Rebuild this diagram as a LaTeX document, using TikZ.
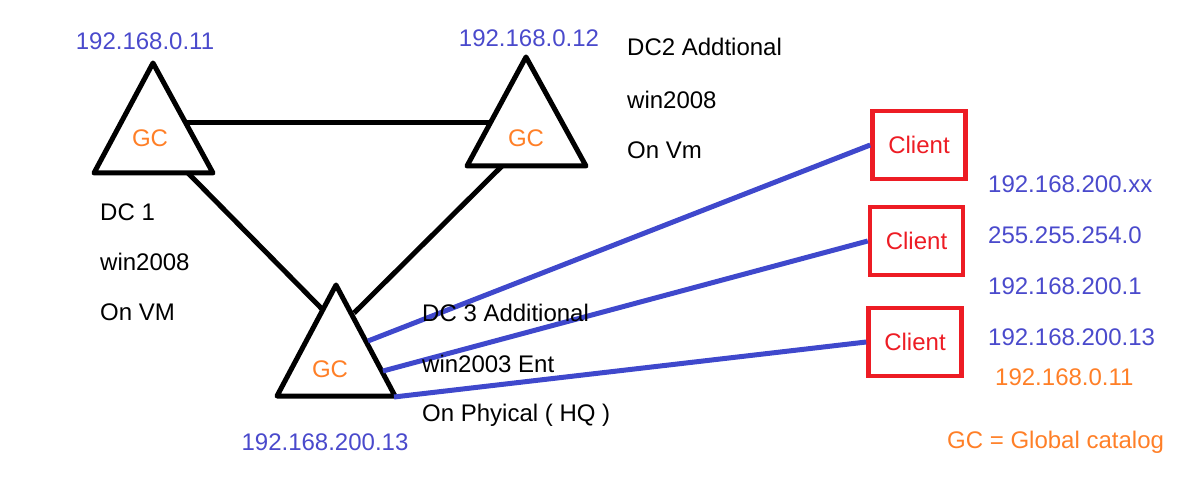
\documentclass[tikz,border=0pt]{standalone}
\usepackage{fontspec}
\setmainfont{Liberation Sans}
\definecolor{ipblue}{HTML}{4A4ACC}
\definecolor{lnblue}{HTML}{3F48CC}
\definecolor{gcorange}{HTML}{FF7F27}
\definecolor{clred}{HTML}{ED1C24}
\tikzset{
  txt/.style={font=\fontsize{24}{28}\selectfont, inner sep=0pt},
  iptxt/.style={txt, text=ipblue},
  gctxt/.style={txt, text=gcorange},
  blk/.style={txt, text=black, anchor=west},
  dcline/.style={line width=5pt, black, line join=round},
  cline/.style={line width=5pt, lnblue},
  clientbox/.style={draw=clred, line width=4.5pt, minimum width=93pt, minimum height=68pt, inner sep=0pt, font=\fontsize{24}{28}\selectfont, text=clred},
}
\begin{document}
\begin{tikzpicture}[x=1pt,y=-1pt]
\useasboundingbox (0,0) rectangle (1189,478);
% triangle corners
\coordinate (t1a) at (153,63); \coordinate (t1l) at (94,173); \coordinate (t1r) at (213,173);
\coordinate (t2a) at (526,57); \coordinate (t2l) at (467,166); \coordinate (t2r) at (586,166);
\coordinate (t3a) at (336,285); \coordinate (t3l) at (277,396); \coordinate (t3r) at (395,396);
\draw[dcline] (t1a) -- (t1l) -- (t1r) -- cycle;
\draw[dcline] (t2a) -- (t2l) -- (t2r) -- cycle;
\draw[dcline] (t3a) -- (t3l) -- (t3r) -- cycle;
% connection points
\coordinate (c12a) at (187,123); \coordinate (c12b) at (492,123);
\coordinate (c13a) at (188,173); \coordinate (c13b) at (322,309);
\coordinate (c23a) at (502,166); \coordinate (c23b) at (354,313);
\draw[dcline] (c12a) -- (c12b);
\draw[dcline] (c13a) -- (c13b);
\draw[dcline] (c23a) -- (c23b);
% GC labels
\node[gctxt] (gc1) at (150,138) {GC};
\node[gctxt] (gc2) at (526,138) {GC};
\node[gctxt] (gc3) at (330,369) {GC};
% clients
\node[clientbox] (cl1) at (919,145) {Client};
\node[clientbox] (cl2) at (916.5,241) {Client};
\node[clientbox] (cl3) at (915,342) {Client};
\coordinate (b1) at (368,341); \coordinate (b2) at (383,371); \coordinate (b3) at (394,397);
\draw[cline] (b1) -- (cl1.west);
\draw[cline] (b2) -- (cl2.west);
\draw[cline] (b3) -- (cl3.west);
% IP labels
\node[iptxt] (ip1) at (145,41) {192.168.0.11};
\node[iptxt] (ip2) at (529,38) {192.168.0.12};
\node[iptxt] (ip3) at (325,442) {192.168.200.13};
% DC texts
\node[blk] (d2a) at (627,47) {DC2 Addtional};
\node[blk] (d2b) at (627,100) {win2008};
\node[blk] (d2c) at (627,150) {On Vm};
\node[blk] (d1a) at (100,212) {DC 1};
\node[blk] (d1b) at (100,262) {win2008};
\node[blk] (d1c) at (100,312) {On VM};
\node[blk] (d3a) at (422,313) {DC 3 Additional};
\node[blk] (d3b) at (422,364) {win2003 Ent};
\node[blk] (d3c) at (422,415) {On Phyical ( HQ )};
% right side
\node[iptxt, anchor=west] (r1) at (988,184) {192.168.200.xx};
\node[iptxt, anchor=west] (r2) at (988,235) {255.255.254.0};
\node[iptxt, anchor=west] (r3) at (988,286) {192.168.200.1};
\node[iptxt, anchor=west] (r4) at (988,337) {192.168.200.13};
\node[gctxt, anchor=west] (r5) at (995,377) {192.168.0.11};
\node[gctxt, anchor=west] (leg) at (947,442) {GC = Global catalog};
\end{tikzpicture}
\end{document}
